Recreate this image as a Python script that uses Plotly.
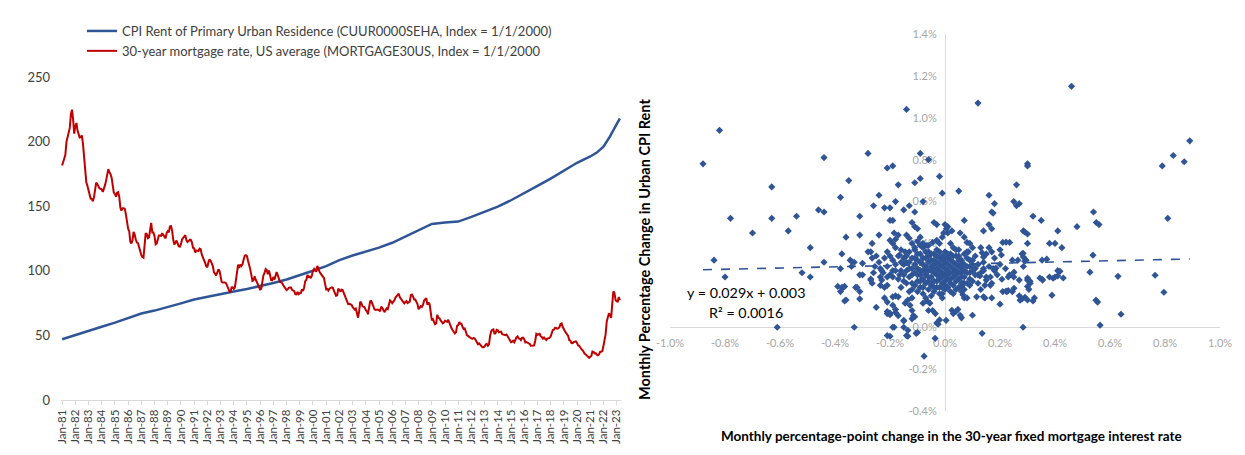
import plotly.graph_objects as go
import pandas as pd

W, H = 1245, 455

# ---------------- Left chart data ----------------
year_ticks = [f"{y}-01-01" for y in range(1981, 2024)]
year_labels = [f"Jan-{y % 100:02d}" for y in range(1981, 2024)]

cpi_dates = [f"{y}-01-01" for y in range(1981, 2022)] + [
    "2021-07-01", "2022-01-01", "2022-07-01", "2023-01-01", "2023-04-01"]
cpi_index = [47.0, 50.4, 53.7, 56.7, 59.9, 63.5, 66.9, 69.2, 71.8, 74.8,
             77.8, 80.0, 81.9, 83.9, 85.9, 88.0, 90.6, 93.3, 96.4, 100.0,
             103.6, 108.3, 111.8, 114.8, 117.9, 121.7, 126.7, 131.8, 136.3, 137.4,
             138.1, 141.7, 145.5, 149.7, 154.6, 159.9, 165.7, 171.4, 177.2, 183.6,
             188.5, 191.5, 196.0, 204.0, 213.5, 218.0]

mortgage_index = [
    181.5, 184.3, 187.6, 189.8, 199.8, 203.4, 205.0, 210.6, 221.2, 224.7, 217.2, 206.1,  # 1981
    211.9, 214.4, 209.0, 205.7, 203.2, 203.4, 204.9, 198.2, 187.9, 178.0, 168.5, 165.9,  # 1982
    161.4, 158.8, 155.9, 155.7, 153.8, 156.8, 163.5, 168.2, 167.2, 164.9, 163.7, 163.5,  # 1983
    162.9, 161.1, 163.1, 166.3, 169.8, 175.6, 178.7, 176.2, 174.8, 172.1, 166.1, 160.5,  # 1984
    159.3, 157.4, 160.4, 160.8, 157.2, 148.8, 146.5, 148.5, 148.5, 147.9, 143.5, 137.1,  # 1985
    132.5, 130.5, 122.8, 121.1, 123.5, 130.1, 128.0, 124.2, 121.9, 121.4, 118.1, 113.4,  # 1986
    112.1, 110.6, 110.1, 119.7, 129.1, 128.4, 125.2, 125.8, 132.6, 137.1, 129.7, 129.7,  # 1987
    127.0, 120.5, 121.0, 124.2, 127.4, 127.4, 127.0, 129.1, 127.6, 125.5, 125.1, 129.2,  # 1988
    130.7, 129.7, 134.3, 134.6, 131.2, 124.2, 120.3, 121.7, 123.4, 121.2, 119.0, 118.6,  # 1989
    120.6, 124.2, 125.1, 126.3, 127.6, 123.8, 122.3, 123.0, 124.0, 124.0, 121.9, 117.8,  # 1990
    117.4, 114.1, 115.7, 115.6, 115.3, 117.2, 116.7, 112.5, 109.7, 107.9, 106.1, 103.5,  # 1991
    102.7, 106.7, 108.9, 107.8, 105.6, 103.7, 99.0, 97.2, 96.5, 98.5, 101.2, 100.1,      # 1992
    96.5, 91.4, 90.9, 90.9, 91.0, 90.4, 87.8, 86.6, 84.3, 83.2, 87.2, 87.3,              # 1993
    86.0, 87.1, 93.5, 101.3, 104.8, 102.3, 104.9, 103.7, 105.2, 108.8, 111.7, 112.1,     # 1994
    111.4, 107.6, 103.0, 101.3, 97.0, 92.2, 92.7, 95.7, 93.1, 91.1, 89.9, 87.7,          # 1995
    85.6, 86.2, 92.8, 96.6, 98.3, 101.3, 100.5, 97.4, 100.2, 96.5, 92.8, 92.6,           # 1996
    95.2, 93.2, 96.2, 99.1, 96.7, 93.7, 91.4, 91.1, 90.5, 88.8, 87.8, 86.5,              # 1997
    85.1, 85.7, 86.8, 87.0, 87.0, 85.3, 84.7, 84.3, 81.9, 81.7, 83.7, 81.9,              # 1998
    82.7, 82.9, 85.7, 84.3, 87.1, 92.0, 92.9, 96.7, 95.2, 95.6, 94.3, 96.3,              # 1999
    100.0, 101.5, 100.4, 99.3, 103.8, 101.0, 99.3, 97.8, 96.3, 95.0, 94.4, 89.9,         # 2000
    85.6, 85.9, 84.7, 86.2, 87.1, 87.2, 86.8, 84.7, 83.1, 80.6, 81.1, 86.1,              # 2001
    85.3, 83.9, 85.4, 85.1, 82.9, 81.0, 79.0, 76.6, 74.2, 74.4, 73.9, 73.7,              # 2002
    72.1, 71.1, 70.0, 70.8, 66.7, 63.7, 68.6, 76.2, 74.9, 72.5, 72.2, 71.6,              # 2003
    69.5, 68.7, 66.4, 71.0, 76.4, 76.6, 73.8, 71.5, 70.0, 69.7, 69.8, 70.0,              # 2004
    69.5, 68.6, 72.2, 71.4, 69.7, 68.0, 69.4, 70.9, 70.3, 73.9, 77.1, 76.4,              # 2005
    74.9, 76.1, 77.0, 79.3, 80.4, 81.4, 82.3, 79.4, 78.0, 77.5, 76.0, 74.8,              # 2006
    75.8, 76.6, 75.0, 75.3, 76.2, 81.1, 81.6, 80.0, 77.7, 77.7, 75.6, 74.3,              # 2007
    70.2, 72.1, 72.7, 72.1, 73.6, 77.0, 78.3, 78.9, 73.6, 75.5, 74.2, 64.9,              # 2008
    61.6, 62.5, 60.9, 58.6, 59.2, 66.0, 63.6, 63.2, 61.6, 60.3, 59.4, 60.0,              # 2009
    61.3, 60.8, 60.5, 62.1, 59.6, 57.7, 55.5, 54.0, 53.0, 51.5, 52.4, 57.4,              # 2010
    58.0, 60.3, 59.0, 59.0, 56.5, 54.9, 55.4, 52.0, 50.1, 49.6, 48.6, 48.2,              # 2011
    47.7, 47.4, 48.1, 47.6, 46.3, 44.8, 43.2, 43.8, 42.6, 41.2, 40.8, 40.8,              # 2012
    41.5, 43.0, 43.5, 42.0, 43.1, 49.6, 53.2, 54.3, 54.7, 51.0, 51.9, 54.3,              # 2013
    54.0, 52.4, 52.9, 52.9, 51.0, 50.7, 50.3, 50.2, 50.7, 49.2, 48.7, 47.0,              # 2014
    44.7, 45.2, 45.9, 44.7, 46.8, 48.5, 49.3, 47.6, 47.4, 46.3, 48.0, 48.2,              # 2015
    47.1, 44.6, 44.9, 44.0, 43.8, 43.5, 41.9, 41.9, 42.1, 42.3, 45.9, 51.2,              # 2016
    50.5, 50.8, 51.2, 49.3, 48.8, 47.5, 48.4, 47.3, 46.4, 47.5, 47.7, 48.1,              # 2017
    49.1, 52.7, 54.1, 54.4, 55.9, 55.7, 55.2, 55.4, 56.4, 58.8, 59.3, 56.5,              # 2018
    54.3, 53.2, 52.0, 50.4, 49.6, 46.3, 45.9, 44.1, 44.0, 44.9, 45.1, 45.3,              # 2019
    44.1, 42.3, 42.0, 40.3, 39.3, 38.5, 36.8, 35.8, 35.2, 34.5, 33.7, 32.6,              # 2020
    33.4, 34.2, 37.5, 37.3, 36.1, 36.3, 35.0, 34.6, 35.3, 37.4, 37.4, 37.8,              # 2021
    42.0, 45.8, 50.8, 60.7, 63.7, 67.2, 65.9, 63.6, 74.4, 84.0, 82.9, 77.5,              # 2022
    76.4, 76.2, 79.7, 77.2,                                                              # 2023
]
mortgage_dates = pd.date_range("1981-01-01", periods=len(mortgage_index), freq="MS")

left_yticks = [0, 50, 100, 150, 200, 250]

# ---------------- Right chart data (percent units) ----------------
scatter_pts = [
    # upper region
    (-0.88, 0.78), (-0.82, 0.94), (-0.78, 0.52), (-0.63, 0.67), (-0.63, 0.52), (-0.54, 0.53),
    (-0.46, 0.56), (-0.44, 0.81), (-0.44, 0.55), (-0.38, 0.62), (-0.35, 0.70), (-0.31, 0.53),
    (-0.28, 0.83), (-0.26, 0.58), (-0.24, 0.63), (-0.22, 0.57), (-0.21, 0.76), (-0.20, 0.57),
    (-0.19, 0.77), (-0.18, 0.60), (-0.17, 0.68), (-0.20, 0.51), (-0.19, 0.51), (-0.15, 0.56),
    (-0.14, 1.04), (-0.13, 0.58), (-0.11, 0.55), (-0.11, 0.69), (-0.12, 0.50), (-0.11, 0.48),
    (-0.10, 0.47), (-0.09, 0.83), (-0.09, 0.71), (-0.08, 0.60), (-0.06, 0.80), (-0.04, 0.50),
    (-0.03, 0.49), (-0.02, 0.72), (-0.01, 0.64), (0.01, 0.48), (0.05, 0.65), (0.07, 0.51),
    (0.12, 1.07), (0.16, 0.63), (0.16, 0.49), (0.17, 0.55), (0.175, 0.545), (0.18, 0.59),
    (0.17, 0.47), (0.14, 0.46), (0.25, 0.60), (0.26, 0.58), (0.27, 0.59), (0.26, 0.68),
    (0.30, 0.78), (0.30, 0.77), (0.32, 0.53), (0.35, 0.51), (0.46, 1.15), (0.48, 0.48),
    (0.54, 0.55), (0.55, 0.50), (0.56, 0.49), (0.79, 0.77), (0.81, 0.52), (0.83, 0.82),
    (0.87, 0.79), (0.89, 0.89), (0.285, 0.46), (0.29, 0.455), (0.30, 0.445), (0.41, 0.46),
    # outer lower region
    (-0.70, 0.45), (-0.57, 0.46), (-0.84, 0.32), (-0.80, 0.24), (-0.49, 0.38), (-0.52, 0.26),
    (-0.49, 0.24), (-0.44, 0.31), (-0.36, 0.43), (-0.31, 0.44), (-0.375, 0.35), (-0.34, 0.315),
    (-0.33, 0.31), (-0.38, 0.28), (-0.375, 0.19), (-0.37, 0.19), (-0.38, 0.17), (-0.36, 0.13),
    (-0.32, 0.19), (-0.31, 0.135), (-0.30, 0.25), (-0.265, 0.40), (-0.27, 0.36), (-0.24, 0.44),
    (-0.25, 0.095), (-0.20, 0.067), (-0.21, 0.075), (-0.61, 0.0), (-0.33, 0.0), (-0.185, 0.0),
    (-0.20, -0.043), (-0.21, -0.04), (-0.135, -0.043), (-0.15, 0.033), (-0.105, -0.029),
    (-0.076, -0.138), (-0.036, -0.053), (-0.025, 0.014), (0.004, 0.033), (0.025, 0.081),
    (0.055, 0.057), (0.06, 0.045), (0.10, 0.057), (0.135, -0.029), (0.20, 0.11), (0.284, 0.0),
    (0.564, 0.01), (0.64, 0.062), (0.549, 0.129), (0.555, 0.12), (0.527, 0.263), (0.629, 0.243),
    (0.764, 0.248), (0.796, 0.167), (0.538, 0.344), (0.40, 0.40), (0.353, 0.32), (0.418, 0.267),
    (0.393, 0.234), (0.40, 0.24), (0.43, 0.235), (0.353, 0.229), (0.389, 0.153), (0.309, 0.22),
    (0.31, 0.21), (0.305, 0.181), (0.291, 0.143), (0.30, 0.13), (0.32, 0.125), (0.273, 0.129),
    (0.251, 0.186), (0.222, 0.172), (0.23, 0.175), (0.17, 0.14), (0.145, 0.14), (0.284, 0.353),
    (0.295, 0.32), (0.222, 0.406), (0.185, 0.282), (0.251, 0.263), (0.207, 0.229),
    # middle ring, left
    (-0.185, 0.45), (-0.17, 0.44), (-0.20, 0.415), (-0.19, 0.40), (-0.18, 0.42), (-0.14, 0.44),
    (-0.13, 0.425), (-0.12, 0.40), (-0.11, 0.38), (-0.09, 0.43), (-0.08, 0.40), (-0.065, 0.39),
    (-0.045, 0.405), (-0.03, 0.415), (-0.02, 0.40), (-0.01, 0.43), (0.01, 0.45), (-0.28, 0.36),
    (-0.265, 0.33), (-0.21, 0.36), (-0.20, 0.34), (-0.19, 0.32), (-0.18, 0.38), (-0.165, 0.345),
    (-0.15, 0.33), (-0.145, 0.36), (-0.345, 0.32), (-0.30, 0.305), (-0.34, 0.29), (-0.255, 0.29),
    (-0.235, 0.28), (-0.225, 0.26), (-0.21, 0.24), (-0.31, 0.25), (-0.27, 0.23),
    # middle ring, right
    (0.0, 0.49), (0.005, 0.47), (-0.005, 0.45), (0.025, 0.46), (0.055, 0.45), (0.07, 0.43),
    (0.08, 0.405), (0.21, 0.405), (0.235, 0.405), (0.30, 0.40), (0.38, 0.40), (0.425, 0.38),
    (0.16, 0.38), (0.20, 0.37), (0.205, 0.345), (0.135, 0.355), (0.14, 0.335), (0.28, 0.35),
    (0.285, 0.335), (0.245, 0.32), (0.265, 0.32), (0.29, 0.315), (0.37, 0.325), (0.09, 0.40),
    (0.10, 0.38), (0.085, 0.36), (0.285, 0.29), (0.41, 0.27), (0.175, 0.28), (0.18, 0.27),
    (0.14, 0.28), (0.14, 0.27), (0.22, 0.28), (0.235, 0.25), (0.25, 0.24), (0.30, 0.235),
    (0.345, 0.235), (0.38, 0.24), (0.41, 0.245),
    # lower left
    (-0.39, 0.195), (-0.365, 0.195), (-0.325, 0.19), (-0.365, 0.125), (-0.31, 0.17), (-0.27, 0.225),
    (-0.265, 0.21), (-0.235, 0.24), (-0.23, 0.225), (-0.235, 0.20), (-0.22, 0.19), (-0.21, 0.20),
    (-0.20, 0.25), (-0.19, 0.24), (-0.165, 0.25), (-0.19, 0.145), (-0.18, 0.15), (-0.17, 0.145),
    (-0.22, 0.14), (-0.21, 0.12), (-0.19, 0.105), (-0.18, 0.085), (-0.18, 0.07), (-0.17, 0.055),
    (-0.21, 0.065), (-0.20, 0.06), (-0.145, 0.115), (-0.135, 0.13), (-0.127, 0.105), (-0.12, 0.08),
    (-0.115, 0.055), (-0.15, 0.03), (-0.12, 0.04), (-0.11, 0.05), (-0.135, -0.015), (-0.14, -0.04),
    (-0.19, 0.0), (-0.15, 0.0), (-0.10, -0.025), (-0.03, 0.02), (-0.02, 0.035), (-0.08, 0.115),
    (-0.065, 0.125), (-0.055, 0.115), (-0.06, 0.08), (-0.045, 0.08), (-0.035, 0.065),
    # lower right
    (0.03, 0.065), (0.04, 0.075), (0.047, 0.085), (0.21, 0.17), (0.225, 0.17), (0.245, 0.17),
    (0.27, 0.15), (0.28, 0.135), (0.325, 0.14), (0.30, 0.195), (0.30, 0.225), (0.355, 0.225),
    (0.23, 0.24), (0.27, 0.225), (0.165, 0.24), (0.165, 0.20), (0.145, 0.20), (0.15, 0.225),
    (0.12, 0.25), (0.127, 0.245), (0.065, 0.155), (0.07, 0.14), (0.08, 0.14), (0.115, 0.145),
    (0.14, 0.145), (0.06, 0.195), (0.065, 0.21), (0.02, 0.17), (-0.01, 0.14),
    # dense core
    (-0.15, 0.30), (-0.14, 0.27), (-0.13, 0.31), (-0.12, 0.28), (-0.12, 0.33), (-0.11, 0.26),
    (-0.11, 0.30), (-0.10, 0.35), (-0.10, 0.22), (-0.10, 0.28), (-0.09, 0.31), (-0.09, 0.25),
    (-0.09, 0.19), (-0.08, 0.27), (-0.08, 0.33), (-0.08, 0.23), (-0.07, 0.29), (-0.07, 0.36),
    (-0.07, 0.21), (-0.07, 0.25), (-0.06, 0.31), (-0.06, 0.27), (-0.06, 0.18), (-0.06, 0.34),
    (-0.05, 0.24), (-0.05, 0.29), (-0.05, 0.32), (-0.05, 0.20), (-0.04, 0.26), (-0.04, 0.30),
    (-0.04, 0.35), (-0.04, 0.22), (-0.03, 0.28), (-0.03, 0.31), (-0.03, 0.25), (-0.03, 0.19),
    (-0.03, 0.37), (-0.02, 0.27), (-0.02, 0.33), (-0.02, 0.23), (-0.02, 0.30), (-0.01, 0.26),
    (-0.01, 0.29), (-0.01, 0.34), (-0.01, 0.21), (0.00, 0.28), (0.00, 0.31), (0.00, 0.25),
    (0.00, 0.36), (0.00, 0.18), (0.01, 0.27), (0.01, 0.30), (0.01, 0.33), (0.01, 0.23),
    (0.02, 0.26), (0.02, 0.29), (0.02, 0.35), (0.02, 0.21), (0.03, 0.28), (0.03, 0.31),
    (0.03, 0.24), (0.03, 0.38), (0.04, 0.27), (0.04, 0.30), (0.04, 0.22), (0.04, 0.34),
    (0.05, 0.26), (0.05, 0.29), (0.05, 0.19), (0.06, 0.28), (0.06, 0.32), (0.06, 0.24),
    (0.07, 0.27), (0.07, 0.30), (0.07, 0.21), (0.08, 0.26), (0.08, 0.33), (0.09, 0.29),
    (0.09, 0.23), (0.10, 0.27), (-0.13, 0.24), (-0.14, 0.34), (-0.12, 0.21), (-0.16, 0.27),
    (-0.15, 0.22), (-0.11, 0.37), (-0.09, 0.39), (-0.06, 0.39), (0.02, 0.40), (0.05, 0.37),
    (0.08, 0.36), (0.10, 0.32), (0.11, 0.25), (0.09, 0.20), (0.06, 0.17), (0.03, 0.16),
    (-0.01, 0.16), (-0.04, 0.17), (-0.08, 0.16), (-0.12, 0.18), (-0.10, 0.32), (-0.07, 0.33),
    (-0.05, 0.27), (-0.02, 0.25), (0.01, 0.25), (0.04, 0.25), (-0.03, 0.22), (0.00, 0.22),
    (0.02, 0.32), (-0.01, 0.32), (-0.06, 0.22), (0.05, 0.32), (0.07, 0.35), (-0.09, 0.27),
    (-0.13, 0.28), (0.03, 0.20), (-0.02, 0.19), (0.06, 0.21), (-0.08, 0.30), (-0.04, 0.32),
    # additional core / inner ring
    (-0.22, 0.33), (-0.21, 0.29), (-0.19, 0.27), (-0.18, 0.30), (-0.17, 0.23), (-0.17, 0.34),
    (-0.16, 0.19), (-0.16, 0.37), (-0.15, 0.25), (-0.14, 0.21), (-0.14, 0.31), (-0.13, 0.17),
    (-0.13, 0.36), (-0.12, 0.25), (-0.12, 0.14), (-0.11, 0.20), (-0.11, 0.33), (-0.10, 0.25),
    (-0.10, 0.17), (-0.10, 0.41), (-0.09, 0.22), (-0.09, 0.35), (-0.08, 0.19), (-0.08, 0.38),
    (-0.07, 0.14), (-0.07, 0.27), (-0.06, 0.24), (-0.06, 0.36), (-0.05, 0.15), (-0.05, 0.35),
    (-0.04, 0.19), (-0.04, 0.28), (-0.03, 0.34), (-0.02, 0.16), (-0.02, 0.36), (-0.01, 0.19),
    (-0.01, 0.24), (0.00, 0.33), (0.00, 0.20), (0.01, 0.35), (0.01, 0.19), (0.02, 0.23),
    (0.03, 0.34), (0.03, 0.26), (0.04, 0.18), (0.04, 0.37), (0.05, 0.23), (0.05, 0.34),
    (0.06, 0.26), (0.06, 0.30), (0.07, 0.24), (0.07, 0.18), (0.08, 0.29), (0.08, 0.21),
    (0.09, 0.32), (0.09, 0.26), (0.10, 0.22), (0.10, 0.30), (0.11, 0.28), (0.11, 0.34),
    (0.12, 0.21), (0.12, 0.30), (0.13, 0.26), (0.13, 0.18), (0.14, 0.31), (0.15, 0.24),
    (0.15, 0.35), (0.16, 0.29), (0.17, 0.21), (0.18, 0.33), (0.19, 0.25), (0.20, 0.30),
    (-0.24, 0.31), (-0.23, 0.27), (-0.25, 0.34), (-0.26, 0.26), (-0.18, 0.27), (-0.16, 0.31),
    (0.13, 0.38), (0.17, 0.36),
]
scatter_x = [p[0] for p in scatter_pts]
scatter_y = [p[1] for p in scatter_pts]

trend_slope = 0.029      # y = 0.029x + 0.003 (fractions) -> same slope in percent units
trend_intercept = 0.3    # 0.003 expressed in percent
trend_x = [min(scatter_x), max(scatter_x)]
trend_y = [trend_slope * v + trend_intercept for v in trend_x]

right_xticks = [-1.0, -0.8, -0.6, -0.4, -0.2, 0.0, 0.2, 0.4, 0.6, 0.8, 1.0]
right_xlabels = ["-1.0%", "-0.8%", "-0.6%", "-0.4%", "-0.2%", "0.0%", "0.2%", "0.4%", "0.6%", "0.8%", "1.0%"]
right_yticks = [-0.4, -0.2, 0.0, 0.2, 0.4, 0.6, 0.8, 1.0, 1.2, 1.4]
right_ylabels = ["-0.4%", "-0.2%", "0.0%", "0.2%", "0.4%", "0.6%", "0.8%", "1.0%", "1.2%", "1.4%"]

# ---------------- Layout helpers (window pixel -> paper) ----------------
PAGE_OFFSET = 8  # default body margin of the html page

def px(xp):
    return (xp - PAGE_OFFSET) / W

def py(yp):
    return 1 - (yp - PAGE_OFFSET) / H

FONT = "Lato"
BLUE = "#2F5597"
RED = "#C00000"
AXIS_GRAY = "#D9D9D9"

fig = go.Figure()

fig.add_trace(go.Scatter(
    x=cpi_dates, y=cpi_index, mode="lines",
    name="CPI Rent of Primary Urban Residence (CUUR0000SEHA, Index = 1/1/2000)",
    line=dict(color=BLUE, width=2.5), xaxis="x", yaxis="y"))
fig.add_trace(go.Scatter(
    x=mortgage_dates, y=mortgage_index, mode="lines",
    name="30-year mortgage rate, US average (MORTGAGE30US, Index = 1/1/2000",
    line=dict(color=RED, width=2), xaxis="x", yaxis="y"))

fig.add_trace(go.Scatter(
    x=scatter_x, y=scatter_y, mode="markers", showlegend=False,
    marker=dict(symbol="diamond", size=5.5, color=BLUE, line=dict(width=0)),
    xaxis="x2", yaxis="y2"))
fig.add_trace(go.Scatter(
    x=trend_x, y=trend_y, mode="lines", showlegend=False,
    line=dict(color=BLUE, width=1.6, dash="dash"),
    xaxis="x2", yaxis="y2"))

fig.update_layout(
    template="none",
    width=W, height=H, autosize=False,
    margin=dict(l=0, r=0, t=0, b=0, pad=0),
    paper_bgcolor="white", plot_bgcolor="white",
    font=dict(family=FONT, size=12, color="#404040"),
    showlegend=True,
    legend=dict(x=px(82), y=py(16), xanchor="left", yanchor="top",
                font=dict(family=FONT, size=13, color="#404040"),
                bgcolor="rgba(0,0,0,0)", borderwidth=0, itemwidth=30),
    xaxis=dict(domain=[px(61), px(621)], range=["1980-12-01", "2023-05-01"],
               type="date", tickmode="array", tickvals=year_ticks, ticktext=year_labels,
               tickangle=-90, tickfont=dict(size=11.5, color="#404040"),
               showgrid=False, zeroline=False, showline=True, linecolor=AXIS_GRAY,
               ticks="outside", ticklen=4, tickcolor=AXIS_GRAY, anchor="y",
               automargin=False),
    yaxis=dict(domain=[py(400), py(77)], range=[0, 250], tickmode="array",
               tickvals=left_yticks, tickfont=dict(size=13, color="#404040"),
               showgrid=False, zeroline=False, showline=False, anchor="x",
               ticks="", ticklabelstandoff=10, automargin=False),
    xaxis2=dict(domain=[px(670), px(1220)], range=[-1.0, 1.0], tickmode="array",
                tickvals=right_xticks, ticktext=right_xlabels,
                tickfont=dict(size=11, color="#A6A6A6"),
                showgrid=False, zeroline=False, showline=True, linecolor=AXIS_GRAY,
                ticks="", anchor="free", position=py(327), layer="below traces",
                ticklabelstandoff=6, automargin=False),
    yaxis2=dict(domain=[py(411), py(34)], range=[-0.4, 1.4], tickmode="array",
                tickvals=right_yticks, ticktext=right_ylabels,
                tickfont=dict(size=11, color="#A6A6A6"),
                showgrid=False, zeroline=False, showline=True, linecolor=AXIS_GRAY,
                ticks="", anchor="free", position=px(945), layer="below traces",
                ticklabelstandoff=6, automargin=False),
    annotations=[
        dict(text="<b>Monthly percentage-point change in the 30-year fixed mortgage interest rate</b>",
             x=px(951), y=py(436), xref="paper", yref="paper", xanchor="center", yanchor="middle",
             showarrow=False, font=dict(family=FONT, size=13.5, color="#000000")),
        dict(text="<b>Monthly Percentage Change in Urban CPI Rent</b>",
             x=px(644), y=py(250), xref="paper", yref="paper", xanchor="center", yanchor="middle",
             showarrow=False, textangle=-90,
             font=dict(family=FONT, size=14.5, color="#000000")),
        dict(text="y = 0.029x + 0.003", x=-0.724, y=0.167, xref="x2", yref="y2",
             xanchor="center", yanchor="middle",
             showarrow=False, font=dict(family=FONT, size=14.3, color="#000000")),
        dict(text="R² = 0.0016", x=-0.724, y=0.072, xref="x2", yref="y2",
             xanchor="center", yanchor="middle",
             showarrow=False, font=dict(family=FONT, size=14.3, color="#000000")),
    ],
)

fig.write_html("out.html")
